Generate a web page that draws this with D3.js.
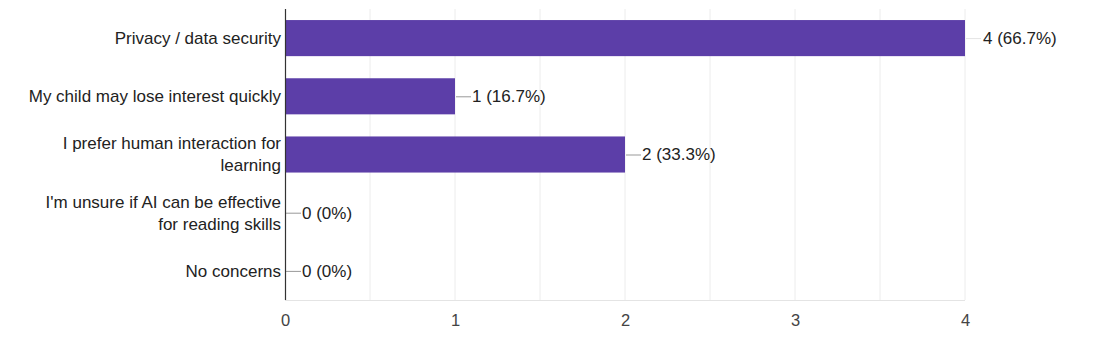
<!DOCTYPE html>
<html><head><meta charset="utf-8">
<script src="https://cdn.jsdelivr.net/npm/d3@7"></script>
<style>body{margin:0;background:#fff;}svg{display:block;font-family:"Liberation Sans",Arial,sans-serif;}</style>
</head><body><svg id="c" width="1100" height="358"></svg>
<script>
const categories = [
  ["Privacy / data security"],
  ["My child may lose interest quickly"],
  ["I prefer human interaction for", "learning"],
  ["I'm unsure if AI can be effective", "for reading skills"],
  ["No concerns"]
];
const counts = [4, 1, 2, 0, 0];
const valueLabels = ["4 (66.7%)", "1 (16.7%)", "2 (33.3%)", "0 (0%)", "0 (0%)"];
const xTicks = [0, 1, 2, 3, 4];
const gridTicks = [0.5, 1, 1.5, 2, 2.5, 3, 3.5, 4];

const svg = d3.select("#c");
const m = {l: 285, r: 135, t: 9, b: 58};
const W = 1100, H = 358;
const keys = categories.map((c, i) => i);
const x = d3.scaleLinear().domain([0, 4]).range([m.l, W - m.r]);
const y = d3.scaleBand().domain(keys).range([m.t, H - m.b]).paddingInner(0.38).paddingOuter(0.19);
const FS = 17;

// grid
svg.append("g").selectAll("line").data(gridTicks).join("line")
  .attr("x1", d => x(d)).attr("x2", d => x(d))
  .attr("y1", m.t).attr("y2", H - m.b)
  .attr("stroke", "#ececec").attr("stroke-width", 1);
svg.append("line").attr("x1", m.l).attr("x2", x(4)).attr("y1", H - m.b + 0.5).attr("y2", H - m.b + 0.5)
  .attr("stroke", "#e4e4e4");

// bars
svg.append("g").selectAll("rect").data(counts).join("rect")
  .attr("x", x(0)).attr("y", (d, i) => y(i))
  .attr("width", d => x(d) - x(0)).attr("height", y.bandwidth())
  .attr("fill", "#5c3ea8");

// value label connectors
svg.append("g").selectAll("line").data(counts).join("line")
  .attr("x1", d => x(d) + 1).attr("x2", d => x(d) + 16)
  .attr("y1", (d, i) => y(i) + y.bandwidth() / 2 + 0.5)
  .attr("y2", (d, i) => y(i) + y.bandwidth() / 2 + 0.5)
  .attr("stroke", (d) => d === 4 ? "#e4e4e4" : "#999").attr("stroke-width", 1);
svg.append("g").selectAll("text").data(counts).join("text")
  .attr("x", d => x(d) + (d === 4 ? 18 : 17))
  .attr("y", (d, i) => y(i) + y.bandwidth() / 2)
  .attr("dy", "0.35em")
  .attr("font-size", FS).attr("fill", "#222")
  .text((d, i) => valueLabels[i]);

// y axis line
svg.append("line").attr("x1", m.l + 0.5).attr("x2", m.l + 0.5).attr("y1", m.t).attr("y2", H - m.b)
  .attr("stroke", "#333").attr("stroke-width", 1.2);

// y labels
const LH = 22;
const yl = svg.append("g").selectAll("text").data(categories).join("text")
  .attr("text-anchor", "end").attr("font-size", FS).attr("fill", "#222")
  .attr("x", m.l - 4)
  .attr("y", (d, i) => y(i) + y.bandwidth() / 2 - (d.length - 1) * LH / 2);
yl.selectAll("tspan").data(d => d).join("tspan")
  .attr("x", m.l - 4).attr("dy", (d, j) => j === 0 ? "0.35em" : LH + "px").text(d => d);

// x axis
const xa = svg.append("g").attr("transform", `translate(0,${H - m.b})`)
  .call(d3.axisBottom(x).tickValues(xTicks).tickSize(0).tickPadding(14).tickFormat(d3.format("d")));
xa.select(".domain").remove();
xa.selectAll("text").attr("font-size", 16.5).attr("fill", "#444").attr("font-family", "Liberation Sans, Arial, sans-serif");
</script></body></html>
